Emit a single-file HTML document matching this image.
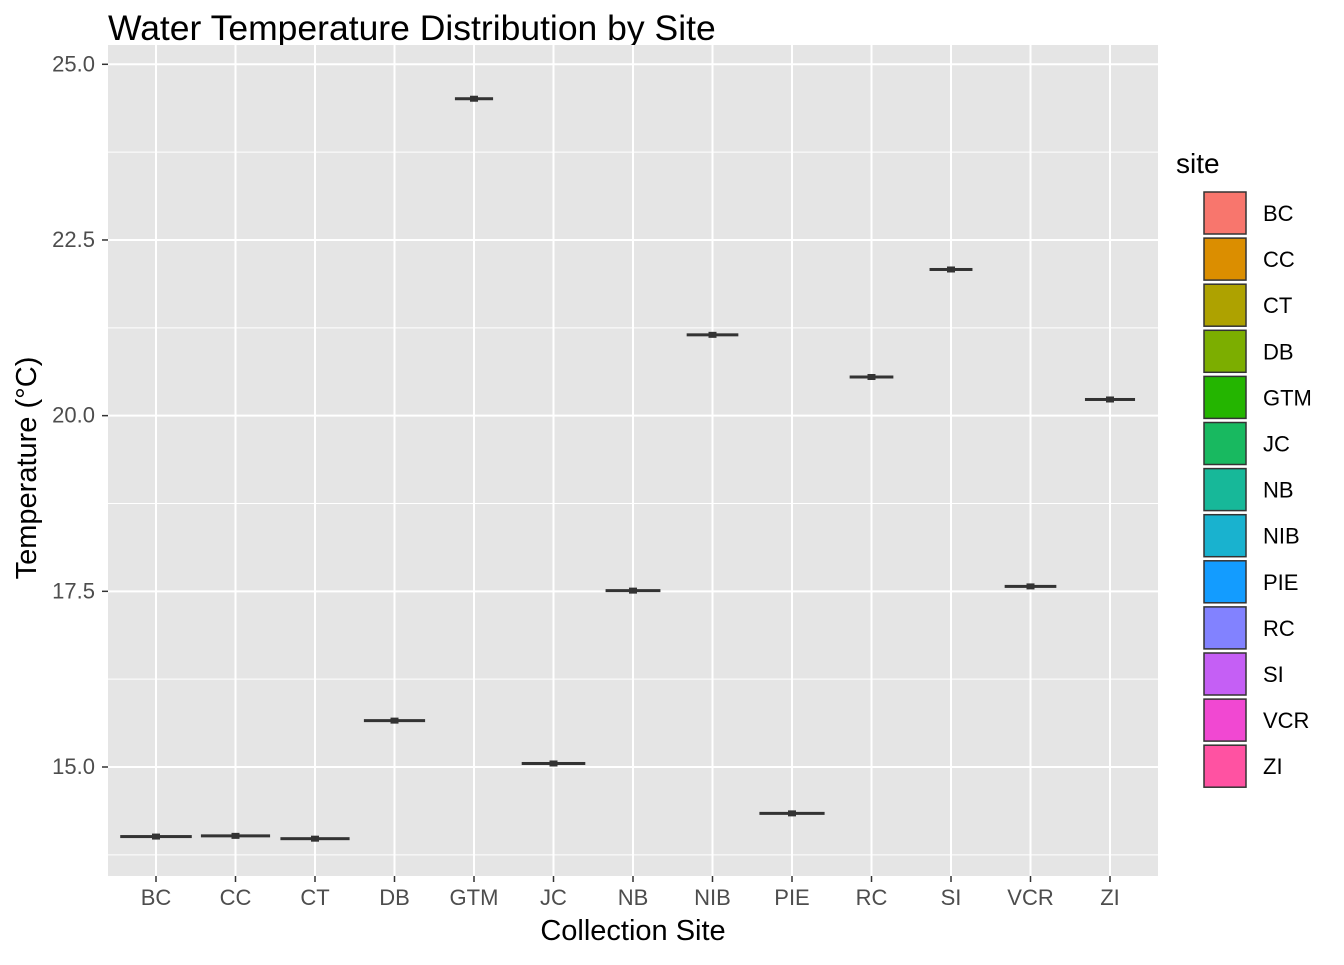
<!DOCTYPE html>
<html><head><meta charset="utf-8"><style>
body{margin:0;background:#fff;font-family:"Liberation Sans",Arial,sans-serif}
</style></head><body>
<svg id="chart" width="1344" height="960" xmlns="http://www.w3.org/2000/svg">
<text x="108" y="40" font-size="35.5" fill="#000">Water Temperature Distribution by Site</text>
<rect x="108" y="45" width="1050" height="831" fill="#e5e5e5"/>
<g id="grid"></g><g id="marks"></g><g id="axes"></g>
<text x="633" y="940" font-size="29" text-anchor="middle">Collection Site</text>
<text transform="translate(36,468) rotate(-90)" font-size="29" text-anchor="middle">Temperature (°C)</text>
<text x="1176" y="173" font-size="28">site</text>
<g id="legend"></g>
</svg>
<script>
const sites=["BC","CC","CT","DB","GTM","JC","NB","NIB","PIE","RC","SI","VCR","ZI"];
const medians=[14.01,14.02,13.98,15.66,24.51,15.05,17.51,21.15,14.34,20.55,22.08,17.57,20.23];
const widthFrac=[0.9,0.87,0.87,0.77,0.48,0.8,0.69,0.65,0.82,0.55,0.54,0.65,0.63];
const legendColors=["#F8766D","#DB8E00","#AEA200","#7CAE00","#24B500","#18B960","#17B899","#19B2CF","#139CFF","#8282FF","#C55FF5","#F148D2","#FF52A2"];
const yTicks=[15.0,17.5,20.0,22.5,25.0];
const NS="http://www.w3.org/2000/svg";
const y=v=>767-(v-15)*70.27;
const x=i=>156+i*79.5;
function mk(t,a,p){const e=document.createElementNS(NS,t);for(const k in a)e.setAttribute(k,a[k]);p.appendChild(e);return e;}
const grid=document.getElementById('grid'),marks=document.getElementById('marks'),axes=document.getElementById('axes'),legend=document.getElementById('legend');
for(let k=0;k<yTicks.length;k++){
 const v=yTicks[k];
 const l=mk('line',{x1:108,x2:1158,y1:y(v),y2:y(v),stroke:'#fff','stroke-width':2},grid);
 
 
 const mv=v-1.25;
 if(y(mv)<876&&y(mv)>45){const m=mk('line',{x1:108,x2:1158,y1:y(mv),y2:y(mv),stroke:'#fff','stroke-width':1},grid);
 
 }
 const t=mk('line',{x1:102,x2:108,y1:y(v),y2:y(v),stroke:'#333','stroke-width':1.5},axes);
 
 
 const tx=mk('text',{x:95,y:y(v)+7,'font-size':22,fill:'#4d4d4d','text-anchor':'end'},axes);
 tx.textContent=v.toFixed(1);
 
 
}
sites.forEach((s,i)=>{
 const g=mk('line',{x1:x(i),x2:x(i),y1:45,y2:876,stroke:'#fff','stroke-width':2},grid);
 
 
 const hw=widthFrac[i]*79.5/2, yy=y(medians[i]);
 const b=mk('rect',{x:x(i)-hw,y:yy-1.5,width:2*hw,height:3,fill:'#333'},marks);
 
 
 const c=mk('rect',{x:x(i)-4,y:yy-3,width:8,height:6,fill:'#333'},marks);
 
 
 const t=mk('line',{x1:x(i),x2:x(i),y1:876,y2:882,stroke:'#333','stroke-width':1.5},axes);
 
 
 const tx=mk('text',{x:x(i),y:905,'font-size':22,fill:'#4d4d4d','text-anchor':'middle'},axes);
 tx.textContent=s;
 
 
 const ly=192+i*46.1;
 const k=mk('rect',{x:1204,y:ly,width:42,height:42,fill:legendColors[i],stroke:'#333','stroke-width':1.5},legend);
 
 
 const lt=mk('text',{x:1263,y:ly+29,'font-size':22},legend);
 lt.textContent=s;
 
 
});
</script>
</body></html>
